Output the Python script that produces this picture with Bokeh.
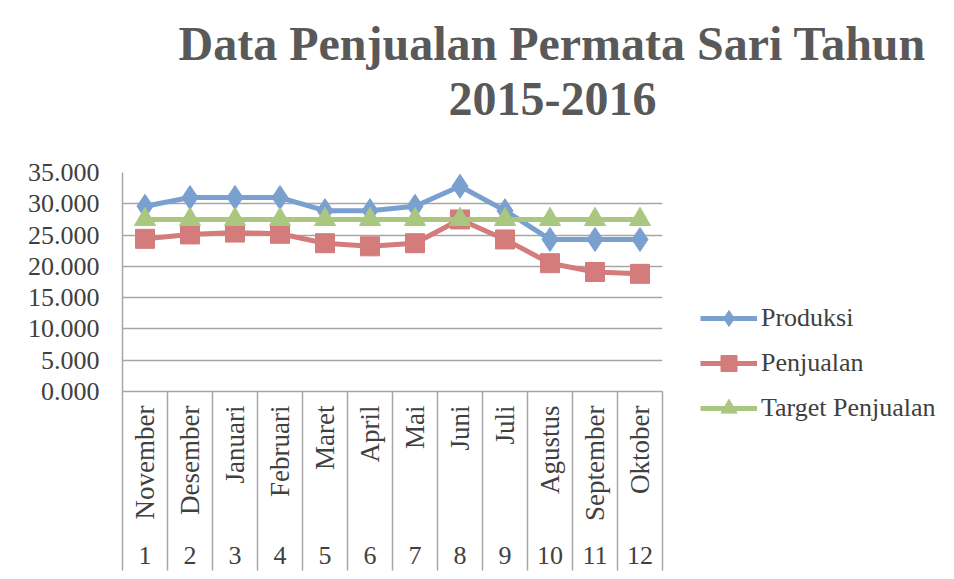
import math
from bokeh.plotting import figure
from bokeh.models import (ColumnDataSource, Range1d, FixedTicker,
                          Title, Legend, LegendItem, LinearAxis)
from bokeh.embed import file_html
from bokeh.resources import INLINE

# ---- data ----
months = ["November", "Desember", "Januari", "Februari", "Maret", "April",
          "Mai", "Juni", "Juli", "Agustus", "September", "Oktober"]
numbers = ["1", "2", "3", "4", "5", "6", "7", "8", "9", "10", "11", "12"]
produksi = [29600, 31000, 31000, 31000, 28900, 28900, 29600, 32800, 28900, 24300, 24300, 24300]
penjualan = [24400, 25100, 25400, 25200, 23700, 23200, 23700, 27500, 24300, 20500, 19100, 18800]
target = [27500, 27500, 27500, 27500, 27500, 27500, 27500, 27500, 27500, 27500, 27500, 27500]
y_ticks = [0, 5000, 10000, 15000, 20000, 25000, 30000, 35000]
y_tick_labels = ["0.000", "5.000", "10.000", "15.000", "20.000", "25.000", "30.000", "35.000"]
series_names = ["Produksi", "Penjualan", "Target Penjualan"]
title_lines = ["Data Penjualan Permata Sari Tahun", "2015-2016"]

FONT = "Liberation Serif"
TXT = "#404040"
GRID = "#a6a6a6"
C_BLUE = "#7aa0cf"
C_RED = "#d47b7b"
C_GREEN = "#a9c77f"

n = len(months)
centers = [i + 0.5 for i in range(n)]      # category slot centres
bounds = list(range(n + 1))                 # category slot edges
src = ColumnDataSource(dict(x=centers, produksi=produksi, penjualan=penjualan, target=target))

p = figure(x_range=Range1d(0, n), y_range=Range1d(0, 35000),
           frame_width=540, frame_height=219,
           min_border_left=122, min_border_top=172,
           min_border_right=284, min_border_bottom=180,
           output_backend="svg", toolbar_location=None)
p.outline_line_color = None
p.background_fill_color = "white"
p.border_fill_color = "white"

# grid
p.xgrid.grid_line_color = None
p.ygrid.grid_line_color = GRID
p.ygrid.grid_line_width = 1.5
p.ygrid.ticker = FixedTicker(ticks=y_ticks)

# y axis
ya = p.yaxis[0]
ya.ticker = FixedTicker(ticks=y_ticks)
ya.major_label_overrides = {t: l for t, l in zip(y_ticks, y_tick_labels)}
ya.major_label_text_font = FONT
ya.major_label_text_font_size = "26px"
ya.major_label_text_color = TXT
ya.major_tick_line_color = None
ya.minor_tick_line_color = None
ya.major_tick_out = 0
ya.axis_line_color = GRID
ya.axis_line_width = 1.5
ya.major_label_standoff = 23

# x axis, level 1: month names (rotated); minor ticks = slot edges that run
# down through both label rows (negative standoff keeps labels near the axis)
SEP_LEN = 179
xa = p.xaxis[0]
xa.ticker = FixedTicker(ticks=centers, minor_ticks=bounds)
xa.major_label_overrides = {c: m for c, m in zip(centers, months)}
xa.major_label_orientation = math.pi / 2
xa.major_label_text_font = FONT
xa.major_label_text_font_size = "27px"
xa.major_label_text_color = TXT
xa.major_label_standoff = 14 - SEP_LEN
xa.major_tick_line_color = None
xa.major_tick_out = 0
xa.major_tick_in = 0
xa.minor_tick_line_color = GRID
xa.minor_tick_line_width = 1.5
xa.minor_tick_in = 0
xa.minor_tick_out = SEP_LEN
xa.axis_line_color = GRID
xa.axis_line_width = 1.5

# x axis, level 2: numbers
xb = LinearAxis(ticker=FixedTicker(ticks=centers),
                major_label_overrides={c: s for c, s in zip(centers, numbers)},
                major_label_text_font=FONT, major_label_text_font_size="26px",
                major_label_text_color=TXT, major_label_standoff=23,
                major_tick_line_color=None, major_tick_out=0, major_tick_in=0,
                minor_tick_line_color=None, minor_tick_out=0, minor_tick_in=0,
                axis_line_color=None)
p.add_layout(xb, "below")

# series
items = []
specs = [("produksi", C_BLUE, "diamond", 24),
         ("penjualan", C_RED, "square", 19),
         ("target", C_GREEN, "triangle", 21)]
for name, (col, color, marker, size) in zip(series_names, specs):
    ln = p.line(x="x", y=col, source=src, line_color=color, line_width=5)
    sc = p.scatter(x="x", y=col, source=src, marker=marker, size=size,
                   fill_color=color, line_color=color)
    items.append(LegendItem(label=name, renderers=[ln, sc]))

legend = Legend(items=items, location=(38, -37), orientation="vertical",
                glyph_width=57, glyph_height=40, spacing=5, padding=0, margin=0,
                label_standoff=4, label_text_font=FONT, label_text_font_size="26px",
                label_text_color=TXT, border_line_color=None,
                background_fill_alpha=0)
p.add_layout(legend, "right")

# title: spacer nearest the frame, then the two lines stacked upward
p.add_layout(Title(text=" ", text_font_size="1px", standoff=55), "above")
for txt, off, so in [(title_lines[1], 326, 0), (title_lines[0], 56, 22)]:
    p.add_layout(Title(text=txt, align="left", offset=off, standoff=so,
                       text_font=FONT, text_font_size="48px",
                       text_font_style="bold", text_color="#595959"), "above")

open("out.html", "w").write(file_html(p, INLINE))
